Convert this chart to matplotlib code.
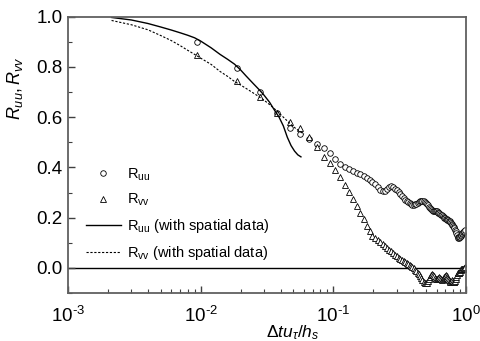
import matplotlib
matplotlib.use("Agg")
import matplotlib.pyplot as plt
from matplotlib.ticker import FixedLocator, FixedFormatter

plt.rcParams['font.family'] = ['Liberation Sans', 'DejaVu Sans']
plt.rcParams['mathtext.fontset'] = 'custom'
plt.rcParams['mathtext.rm'] = 'Liberation Sans'
plt.rcParams['mathtext.it'] = 'Liberation Sans:italic'
plt.rcParams['mathtext.bf'] = 'Liberation Sans:bold'

# Time lag (normalised) of the point measurements
lag = [0.0094, 0.0188, 0.0282, 0.0376, 0.047, 0.0564, 0.0658, 0.0752, 0.0846, 0.094,
       0.1034, 0.1128, 0.1222, 0.1316, 0.141, 0.1504, 0.1598, 0.1692, 0.1786, 0.188,
       0.197, 0.207, 0.216, 0.226, 0.235, 0.244, 0.254, 0.263, 0.273, 0.282,
       0.291, 0.301, 0.310, 0.320, 0.329, 0.338, 0.348, 0.357, 0.367, 0.376,
       0.385, 0.395, 0.404, 0.414, 0.423, 0.432, 0.442, 0.451, 0.461, 0.470,
       0.479, 0.489, 0.498, 0.508, 0.517, 0.526, 0.536, 0.545, 0.555, 0.564,
       0.573, 0.583, 0.592, 0.602, 0.611, 0.620, 0.630, 0.639, 0.649, 0.658,
       0.667, 0.677, 0.686, 0.696, 0.705, 0.714, 0.724, 0.733, 0.743, 0.752,
       0.761, 0.771, 0.780, 0.790, 0.799, 0.808, 0.818, 0.827, 0.837, 0.846,
       0.855, 0.865, 0.874, 0.884, 0.893, 0.902, 0.912, 0.921, 0.931, 0.940,
       0.949, 0.959, 0.968, 0.978]

Ruu = [0.899, 0.794, 0.701, 0.617, 0.556, 0.532, 0.512, 0.494, 0.476, 0.459,
       0.435, 0.415, 0.403, 0.392, 0.386, 0.379, 0.373, 0.365, 0.356, 0.350,
       0.343, 0.334, 0.322, 0.312, 0.305, 0.306, 0.314, 0.322, 0.324, 0.321,
       0.316, 0.310, 0.304, 0.296, 0.287, 0.278, 0.272, 0.266, 0.261, 0.257,
       0.253, 0.251, 0.251, 0.253, 0.256, 0.259, 0.262, 0.265, 0.267, 0.267,
       0.266, 0.264, 0.260, 0.255, 0.249, 0.243, 0.237, 0.233, 0.230, 0.228,
       0.227, 0.228, 0.227, 0.225, 0.222, 0.219, 0.217, 0.215, 0.212, 0.209,
       0.206, 0.203, 0.200, 0.198, 0.196, 0.194, 0.192, 0.190, 0.188, 0.185,
       0.182, 0.179, 0.176, 0.172, 0.167, 0.162, 0.157, 0.151, 0.145, 0.138,
       0.131, 0.124, 0.119, 0.118, 0.121, 0.124, 0.128, 0.131, 0.135, 0.138,
       0.141, 0.144, 0.147, 0.150]

Rvv = [0.849, 0.743, 0.680, 0.615, 0.582, 0.555, 0.520, 0.483, 0.443, 0.417,
       0.390, 0.360, 0.330, 0.304, 0.275, 0.246, 0.218, 0.194, 0.165, 0.147,
       0.128, 0.118, 0.110, 0.102, 0.094, 0.087, 0.080, 0.073, 0.066, 0.058,
       0.052, 0.046, 0.041, 0.036, 0.032, 0.028, 0.024, 0.021, 0.017, 0.013,
       0.009, 0.004, -0.001, -0.007, -0.013, -0.019, -0.025, -0.032, -0.040, -0.048,
       -0.055, -0.060, -0.062, -0.060, -0.053, -0.045, -0.035, -0.028, -0.025, -0.027,
       -0.033, -0.040, -0.045, -0.046, -0.044, -0.040, -0.038, -0.040, -0.044, -0.047,
       -0.045, -0.040, -0.035, -0.031, -0.030, -0.033, -0.039, -0.045, -0.050, -0.054,
       -0.056, -0.055, -0.052, -0.050, -0.052, -0.055, -0.056, -0.053, -0.045, -0.036,
       -0.028, -0.022, -0.020, -0.022, -0.020, -0.015, -0.010, -0.006, -0.004, -0.005,
       -0.006, -0.003, 0.000, 0.002]

# Spatial-data estimates
lag_s_uu = [0.00213, 0.003, 0.004, 0.005, 0.006, 0.007, 0.008, 0.009, 0.010, 0.012,
            0.014, 0.016, 0.018, 0.020, 0.022, 0.025, 0.028, 0.030, 0.033, 0.036,
            0.039, 0.042, 0.045, 0.048, 0.051, 0.054, 0.057]
Ruu_s = [0.997, 0.987, 0.973, 0.959, 0.947, 0.936, 0.926, 0.916, 0.903, 0.876,
         0.850, 0.830, 0.811, 0.788, 0.764, 0.733, 0.706, 0.688, 0.660, 0.628,
         0.600, 0.565, 0.520, 0.487, 0.465, 0.450, 0.442]

lag_s_vv = [0.00213, 0.003, 0.004, 0.005, 0.006, 0.007, 0.008, 0.009, 0.010, 0.012,
            0.014, 0.016, 0.018, 0.020, 0.023, 0.026, 0.030, 0.034, 0.038, 0.042,
            0.046, 0.050, 0.055, 0.060]
Rvv_s = [0.985, 0.968, 0.948, 0.925, 0.905, 0.885, 0.866, 0.850, 0.835, 0.810,
         0.782, 0.762, 0.742, 0.728, 0.708, 0.690, 0.668, 0.645, 0.622, 0.600,
         0.580, 0.562, 0.546, 0.532]

x_ticks = [1e-3, 1e-2, 1e-1, 1.0]
x_ticklabels = [r'10$^{\text{-3}}$', r'10$^{\text{-2}}$', r'10$^{\text{-1}}$', r'10$^{\text{0}}$']
y_ticks = [0.0, 0.2, 0.4, 0.6, 0.8, 1.0]
y_ticklabels = ['0.0', '0.2', '0.4', '0.6', '0.8', '1.0']

fig = plt.figure(figsize=(4.81, 3.41), dpi=100)
ax = fig.add_axes([68/481, 1-293/341, (466-68)/481, (293-16.7)/341])

ax.axhline(0.0, color='black', lw=1.0, zorder=1)
ax.plot(lag, Ruu, ls='none', marker='o', ms=4, mfc='white', mec='black', mew=0.6,
        label=r'R$_{\mathregular{uu}}$')
ax.plot(lag, Rvv, ls='none', marker='^', ms=4, mfc='white', mec='black', mew=0.6,
        label=r'R$_{\mathregular{vv}}$')
ax.plot(lag_s_uu, Ruu_s, color='black', lw=1.0,
        label=r'R$_{\mathregular{uu}}$ (with spatial data)')
ax.plot(lag_s_vv, Rvv_s, color='black', lw=0.8, ls=(0, (2, 1.5)),
        label=r'R$_{\mathregular{vv}}$ (with spatial data)')

ax.set_xscale('log')
ax.set_xlim(1e-3, 1.0)
ax.set_ylim(-0.1, 1.0)
ax.xaxis.set_major_locator(FixedLocator(x_ticks))
ax.xaxis.set_major_formatter(FixedFormatter(x_ticklabels))
ax.set_yticks(y_ticks)
ax.set_yticks([-0.1, 0.1, 0.3, 0.5, 0.7, 0.9], minor=True)
ax.set_yticklabels(y_ticklabels)

ax.tick_params(which='both', direction='in', top=False, right=False,
               labelsize=13.5, color='#404040')
ax.tick_params(which='major', length=5, width=1.0)
ax.tick_params(which='minor', length=3, width=0.8)
ax.tick_params(axis='x', which='major', pad=9)
ax.tick_params(axis='y', which='major', pad=4)

for s in ax.spines.values():
    s.set_color('#606060')
    s.set_linewidth(1.3)

ax.set_ylabel(r'$R_{uu}, R_{vv}$', fontsize=13)
ax.yaxis.set_label_coords(-0.108, 0.74)
ax.set_xlabel(r'$\mathit{\Delta}tu_{\tau}/h_{s}$', fontsize=12.5)
ax.xaxis.set_label_coords(0.565, -0.11)

leg = ax.legend(loc='lower left', bbox_to_anchor=(0.03, 0.09), frameon=False,
                fontsize=10.5, handlelength=2.4, handletextpad=0.4,
                labelspacing=0.62, borderaxespad=0)

fig.savefig('out.png', dpi=100)
